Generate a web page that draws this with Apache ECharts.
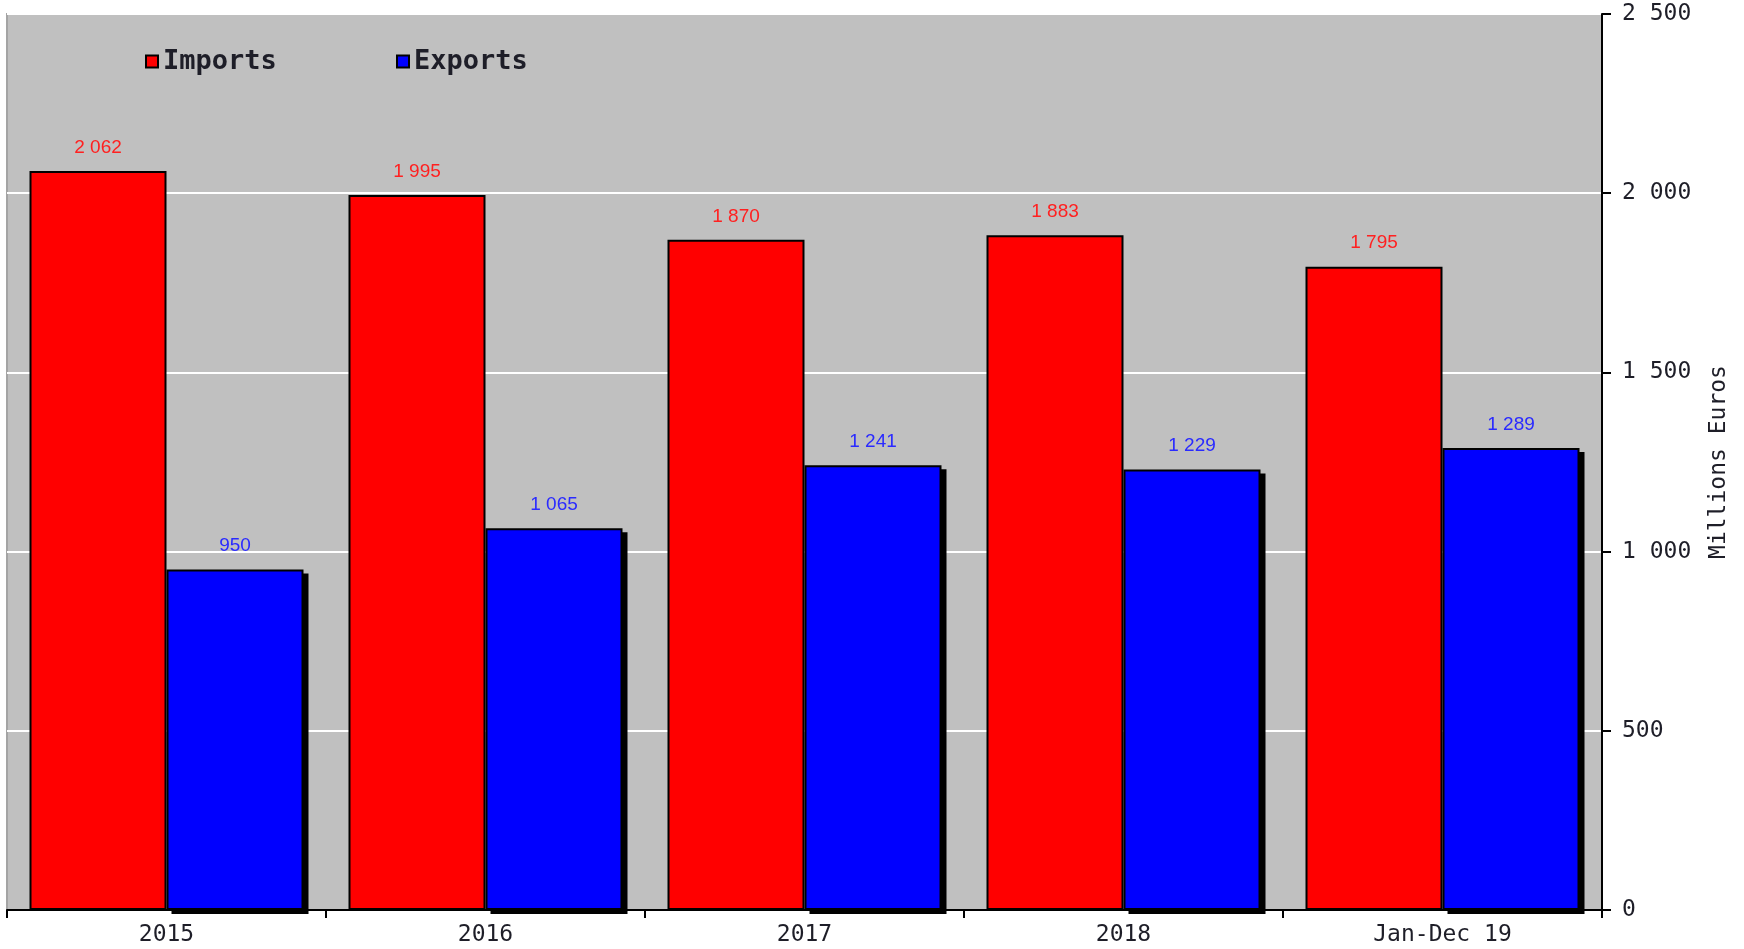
<!DOCTYPE html>
<html>
<head>
<meta charset="utf-8">
<script src="https://cdn.jsdelivr.net/npm/echarts@6/dist/echarts.min.js"></script>
<style>
  html, body { margin: 0; padding: 0; background: #ffffff; }
  #chart { width: 1744px; height: 949px; }
</style>
</head>
<body>
<div id="chart"></div>
<script>
const categories = ['2015', '2016', '2017', '2018', 'Jan-Dec 19'];
const importsValues = [2062, 1995, 1870, 1883, 1795];
const exportsValues = [950, 1065, 1241, 1229, 1289];
const seriesNames = ['Imports', 'Exports'];
const yAxisName = 'Millions Euros';
const yMin = 0, yMax = 2500, yStep = 500;

function groupThousands(v) {
  return String(v).replace(/\B(?=(\d{3})+(?!\d))/g, ' ');
}

const monoFont = '"DejaVu Sans Mono", monospace';
const chart = echarts.init(document.getElementById('chart'), null, { renderer: 'canvas' });

// layout (pixels)
const G = { left: 7, right: 142, top: 14, bottom: 39 };
const BAR_W = 137;
const SH_X = 5, SH_Y = 4;           // drop shadow offset of the export bars
const halfShift = BAR_W / 2 + SH_X;  // shadow grid shift so its single bar sits under the export bar

const legendBase = {
  orient: 'horizontal',
  top: 43,
  icon: 'rect',
  itemWidth: 12,
  itemHeight: 12,
  itemStyle: { borderColor: '#000', borderWidth: 2 },
  textStyle: { fontFamily: monoFont, fontWeight: 'bold', fontSize: 27, color: '#1e1e28' },
  selectedMode: false
};

chart.setOption({
  backgroundColor: '#ffffff',
  animation: false,
  grid: [
    {
      left: G.left, right: G.right, top: G.top, bottom: G.bottom,
      show: true,
      backgroundColor: '#c0c0c0',
      borderColor: '#a4a4a4',
      borderWidth: 2
    },
    {
      left: G.left + halfShift, right: G.right - halfShift,
      top: G.top + SH_Y, bottom: G.bottom - SH_Y,
      show: false
    }
  ],
  legend: [
    Object.assign({}, legendBase, { data: [seriesNames[0]], left: 140 }),
    Object.assign({}, legendBase, { data: [seriesNames[1]], left: 391 })
  ],
  xAxis: [
    {
      type: 'category',
      gridIndex: 0,
      data: categories,
      axisLine: { show: true, lineStyle: { color: '#000', width: 2 } },
      axisTick: { show: true, length: 8, lineStyle: { color: '#000', width: 2 } },
      axisLabel: { margin: 14, fontFamily: monoFont, fontSize: 23, color: '#1e1e28' },
      splitLine: { show: false }
    },
    {
      type: 'category',
      gridIndex: 1,
      data: categories,
      show: false
    }
  ],
  yAxis: [
    {
      type: 'value',
      gridIndex: 0,
      position: 'right',
      min: yMin, max: yMax, interval: yStep,
      name: yAxisName,
      nameLocation: 'middle',
      nameRotate: 90,
      nameGap: 106,
      nameTextStyle: { fontFamily: monoFont, fontSize: 23, color: '#1e1e28' },
      axisLine: { show: true, lineStyle: { color: '#000', width: 2 } },
      axisTick: { show: true, length: 9, lineStyle: { color: '#000', width: 2 } },
      axisLabel: { margin: 20, fontFamily: monoFont, fontSize: 23, color: '#1e1e28', formatter: groupThousands },
      splitLine: { show: true, lineStyle: { color: '#ffffff', width: 2 } }
    },
    {
      type: 'value',
      gridIndex: 1,
      min: yMin, max: yMax, interval: yStep,
      show: false,
      splitLine: { show: false }
    }
  ],
  series: [
    {
      name: seriesNames[1] + ' shadow',
      type: 'bar',
      xAxisIndex: 1, yAxisIndex: 1,
      data: exportsValues,
      barWidth: BAR_W,
      z: 1,
      silent: true,
      itemStyle: { color: '#000' },
      label: { show: false }
    },
    {
      name: seriesNames[0],
      type: 'bar',
      xAxisIndex: 0, yAxisIndex: 0,
      data: importsValues,
      barWidth: BAR_W,
      barGap: '0%',
      z: 2,
      itemStyle: { color: '#ff0000', borderColor: '#000', borderWidth: 2 },
      label: {
        show: true, position: 'top', distance: 14,
        fontFamily: '"Liberation Sans", Arial, sans-serif', fontSize: 19, color: '#ff2020',
        formatter: p => groupThousands(p.value)
      }
    },
    {
      name: seriesNames[1],
      type: 'bar',
      xAxisIndex: 0, yAxisIndex: 0,
      data: exportsValues,
      barWidth: BAR_W,
      barGap: '0%',
      z: 2,
      itemStyle: { color: '#0000ff', borderColor: '#000', borderWidth: 2 },
      label: {
        show: true, position: 'top', distance: 14,
        fontFamily: '"Liberation Sans", Arial, sans-serif', fontSize: 19, color: '#2a2aff',
        formatter: p => groupThousands(p.value)
      }
    }
  ]
});
</script>
</body>
</html>
